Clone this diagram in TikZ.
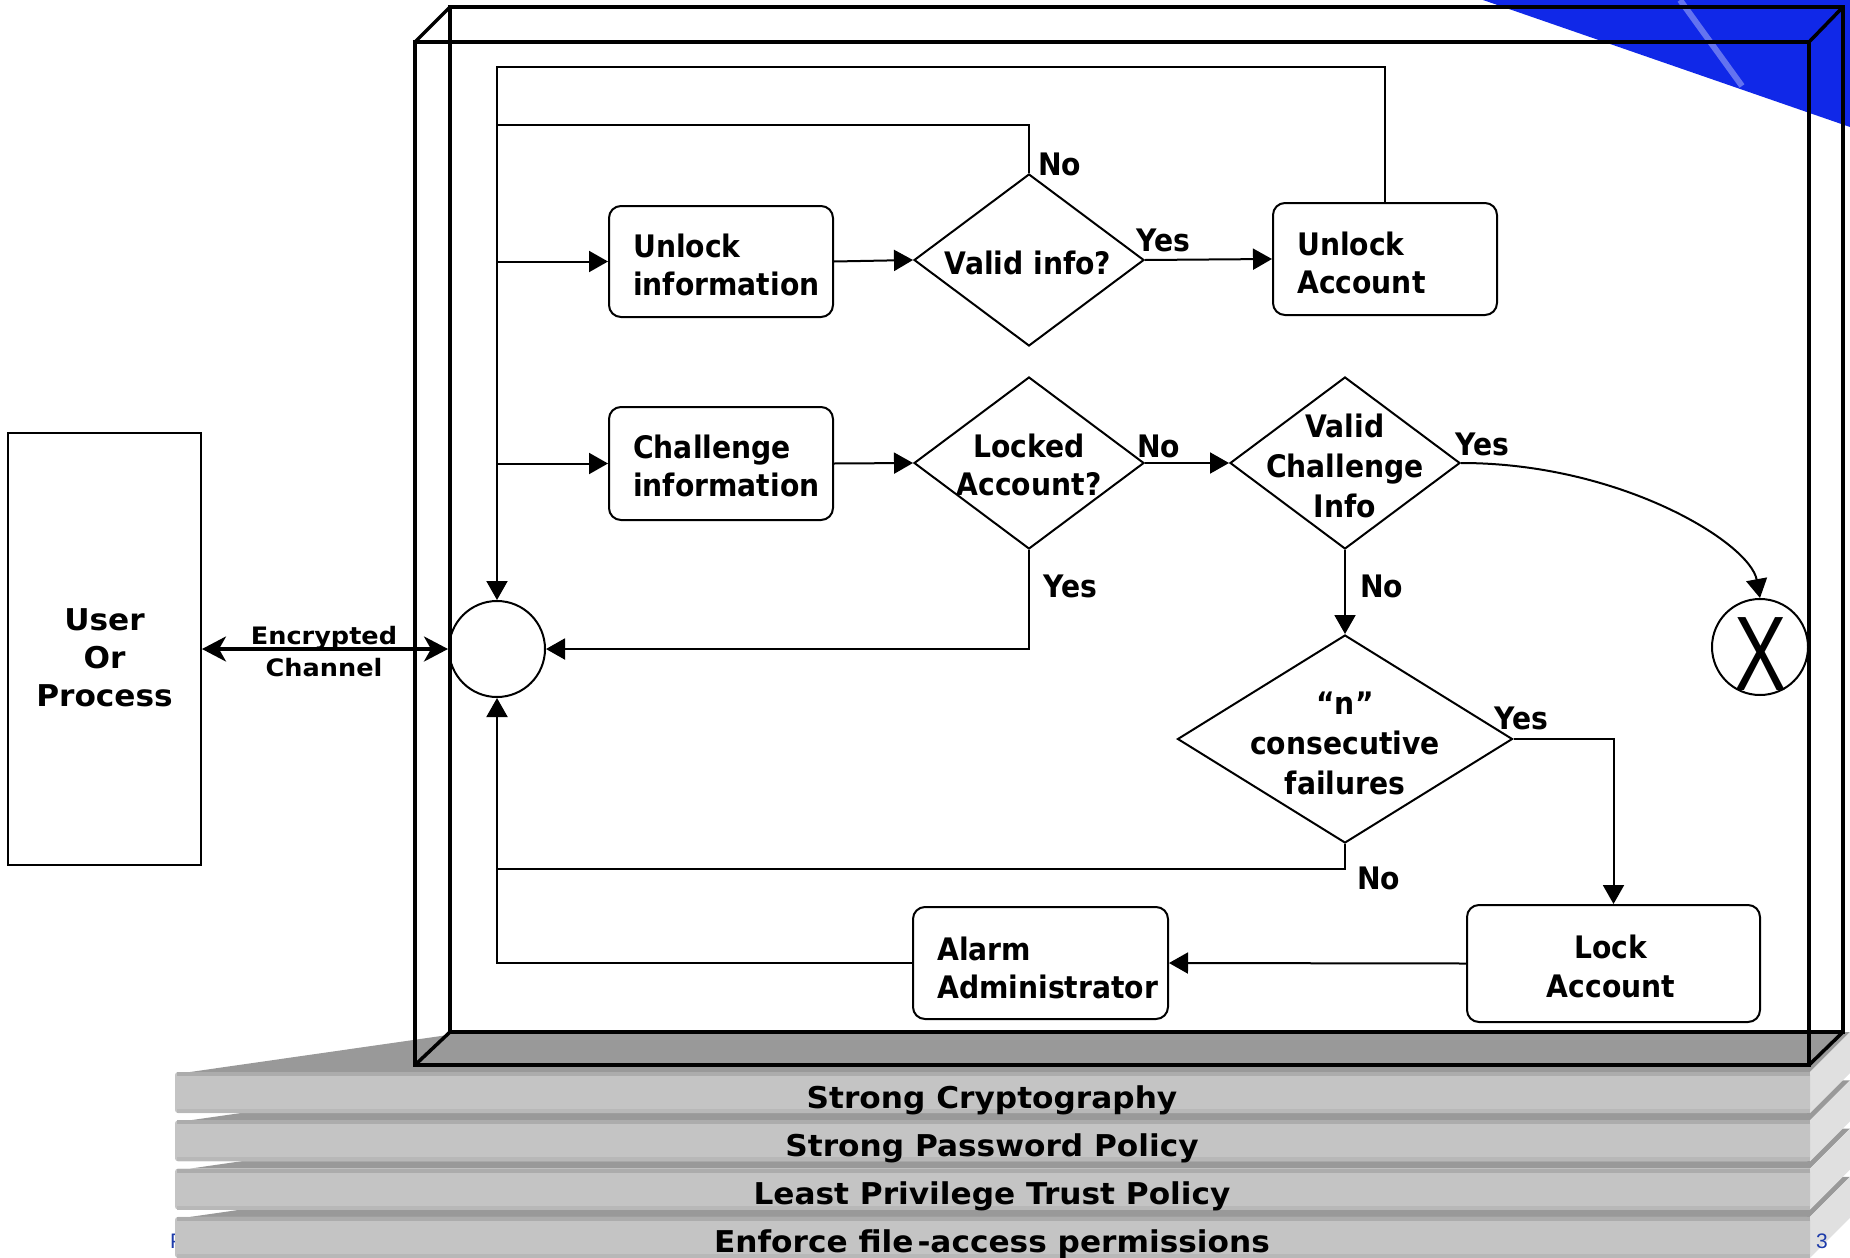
\documentclass[tikz,border=0pt]{standalone}
\usepackage{fontspec}
\usepackage{graphicx}
\usetikzlibrary{arrows.meta,shapes.geometric}
\newfontfamily\fa{DejaVu Sans}[FakeStretch=0.91]
\newfontfamily\fb{DejaVu Sans}[FakeStretch=1.04]
\newfontfamily\fc{DejaVu Sans}[FakeStretch=1.065]
\newfontfamily\fx{Liberation Sans}[FakeStretch=0.74]
\newfontfamily\ff{Liberation Sans}
\definecolor{slabfront}{RGB}{196,196,196}
\definecolor{slabtop}{RGB}{153,153,153}
\definecolor{slabside}{RGB}{224,224,224}
\definecolor{slabband}{RGB}{172,172,172}
\definecolor{slabbot}{RGB}{184,184,184}
\definecolor{bluebg}{RGB}{16,40,232}
\definecolor{footblue}{RGB}{30,60,170}
\begin{document}
\begin{tikzpicture}[x=1pt,y=-1pt,
  ln/.style={line width=2pt},
  arr/.style={line width=2pt,-{Triangle[length=19pt,width=21pt]}},
  dbl/.style={line width=3.5pt,{Stealth[length=24pt,width=25pt,inset=7pt]}-{Stealth[length=24pt,width=25pt,inset=7pt]}},
  rbox/.style={draw,line width=2pt,rounded corners=12pt,inner sep=0pt},
  dia/.style={diamond,draw,line width=2pt,inner sep=0pt},
  ftxt/.style={font=\fa\bfseries\fontsize{31}{38.5}\selectfont,inner sep=0pt},
  lbl/.style={ftxt,anchor=base west},
  ltxt/.style={font=\fb\bfseries\fontsize{30}{38}\selectfont,inner sep=0pt,anchor=base},
  wire/.style={line width=3.5pt},
  foot/.style={font=\ff\fontsize{21}{24}\selectfont,text=footblue,inner sep=0pt,anchor=base west}
]
\useasboundingbox (0,0) rectangle (1850,1258);

% blue corner decoration
\fill[bluebg] (1483,0) -- (1850,0) -- (1850,127) -- cycle;
\draw[white,opacity=0.35,line width=6pt] (1680,0) -- (1742,86);

% stacked policy slabs
\foreach \i in {3,2,1,0}{
  \pgfmathsetmacro\yt{1072+48.3*\i}
  \pgfmathsetmacro\yb{\yt+41}
  \fill[slabtop] (190,\yt) -- (455,\yt-38) -- (1850,\yt-40) -- (1810,\yt) -- cycle;
  \fill[slabside] (1810,\yt) -- (1850,\yt-40) -- (1850,\yb-40) -- (1810,\yb) -- cycle;
  \ifnum\i=3
    \node[foot] (pgl) at (170,1248) {P};
    \node[foot] (pgn) at (1816,1248) {3};
  \fi
  \fill[slabfront,rounded corners=3pt] (175,\yt) rectangle (1810,\yb);
  \fill[slabband] (177,\yt) rectangle (1810,\yt+4);
  \fill[slabbot] (177,\yb-4) rectangle (1810,\yb);
}
\node[ltxt] (l1) at (992,1108) {Strong Cryptography};
\node[ltxt] (l2) at (992,1156) {Strong Password Policy};
\node[ltxt] (l3) at (992,1204) {Least Privilege Trust Policy};
\node[ltxt] (l4) at (992,1252) {Enforce file\hspace{4pt}-access permissions};

% 3D wire box
\fill[slabtop] (415,1065) -- (1809,1065) -- (1843,1032) -- (450,1032) -- cycle;
\draw[wire] (450,7) rectangle (1843,1032);
\draw[wire] (415,42) rectangle (1809,1065);
\draw[wire] (415,42) -- (450,7) (1809,42) -- (1843,7) (1809,1065) -- (1843,1032) (415,1065) -- (450,1032);

% user box
\node[draw,line width=2pt,minimum width=193pt,minimum height=432pt,inner sep=0pt] (user) at (104.5,649) {};
\node[font=\fb\bfseries\fontsize{30}{38}\selectfont,anchor=base,inner sep=0pt] (ut) at (104.5,630)
  {\begin{tabular}[t]{@{}c@{}}User\\Or\\Process\end{tabular}};

% flow nodes
\node[circle,draw,line width=2pt,minimum size=96pt,inner sep=0pt] (m) at (497,649) {};
\node[rbox,minimum width=224pt,minimum height=111pt] (ui) at (721,261.5) {};
\node[rbox,minimum width=224pt,minimum height=112pt] (ua) at (1385,259) {};
\node[rbox,minimum width=224pt,minimum height=113pt] (ci) at (721,463.5) {};
\node[rbox,minimum width=255pt,minimum height=112pt] (al) at (1040.5,963) {};
\node[rbox,minimum width=293pt,minimum height=117pt] (lk) at (1613.5,963.5) {};
\node[dia,minimum width=230pt,minimum height=172pt] (vi) at (1029,260) {};
\node[dia,minimum width=230pt,minimum height=172pt] (la) at (1029,463) {};
\node[dia,minimum width=230pt,minimum height=172pt] (vci) at (1345,463) {};
\node[dia,minimum width=335pt,minimum height=208pt] (nd) at (1345,739) {};
\node[circle,draw,line width=2pt,minimum size=96pt,inner sep=0pt] (xc) at (1760,647) {};
\node[font=\fx\fontsize{106}{106}\selectfont,anchor=base,inner sep=0pt] (xt) at (1761,690) {X};

% texts in nodes
\node[ftxt,anchor=base west] (uit) at (633,257) {\begin{tabular}[t]{@{}l@{}}Unlock\\information\end{tabular}};
\node[ftxt,anchor=base west] (uat) at (1297,255) {\begin{tabular}[t]{@{}l@{}}Unlock\\Account\end{tabular}};
\node[ftxt,anchor=base west] (cit) at (633,458) {\begin{tabular}[t]{@{}l@{}}Challenge\\information\end{tabular}};
\node[ftxt,anchor=base] (vit) at (1028,274) {Valid info?};
\node[ftxt,anchor=base] (lat) at (1029,457) {\begin{tabular}[t]{@{}c@{}}Locked\\Account?\end{tabular}};
\node[ftxt,anchor=base] (vcit) at (1345,437) {\begin{tabular}[t]{@{}c@{}}Valid\\[1.5pt]Challenge\\[1.5pt]Info\end{tabular}};
\node[ftxt,anchor=base] (ndt) at (1345,714) {\begin{tabular}[t]{@{}c@{}}“n”\\[1.5pt]consecutive\\[1.5pt]failures\end{tabular}};
\node[ftxt,anchor=base] (lkt) at (1611,958) {\begin{tabular}[t]{@{}c@{}}Lock\\[1pt]Account\end{tabular}};
\node[ftxt,anchor=base west] (alt) at (937,960) {\begin{tabular}[t]{@{}l@{}}Alarm\\Administrator\end{tabular}};

% helper coordinates on the trunk
\coordinate (tt) at (497,67);
\coordinate (nj) at (497,125);
\coordinate (nj2) at (497,869);

% connectors
\draw[arr] (ua.north) |- (tt) -- (m.north);
\draw[ln] (vi.north) |- (nj);
\draw[arr] (ui.west -| m.north) -- (ui.west);
\draw[arr] (ui.east) -- (vi.west);
\draw[arr] (vi.east) -- (ua.west);
\draw[arr] (ci.west -| m.north) -- (ci.west);
\draw[arr] (ci.east) -- (la.west);
\draw[arr] (la.east) -- (vci.west);
\draw[arr] (la.south) |- (m.east);
\draw[arr] (vci.south) -- (nd.north);
\draw[arr] (vci.east) .. controls +(160,0) and +(-10,-55) .. (xc.north);
\draw[arr] (nd.east) -| (lk.north);
\draw[ln] (nd.south) |- (nj2);
\draw[arr] (lk.west) -- (al.east);
\draw[arr] (al.west) -| (m.south);
\draw[dbl] (user.east |- m.west) -- (m.west);
\node[font=\fc\bfseries\fontsize{24}{32}\selectfont,anchor=base,inner sep=0pt] (ect) at (324,644)
  {\begin{tabular}[t]{@{}c@{}}Encrypted\\Channel\end{tabular}};

% branch labels
\node[lbl] (no1) at (1038,175) {No};
\node[lbl] (yes1) at (1136,251) {Yes};
\node[lbl] (no2) at (1137,457) {No};
\node[lbl] (yes2) at (1043,597) {Yes};
\node[lbl] (yes3) at (1455,455) {Yes};
\node[lbl] (no3) at (1360,597) {No};
\node[lbl] (yes4) at (1494,729) {Yes};
\node[lbl] (no4) at (1357,889) {No};
\end{tikzpicture}
\end{document}
